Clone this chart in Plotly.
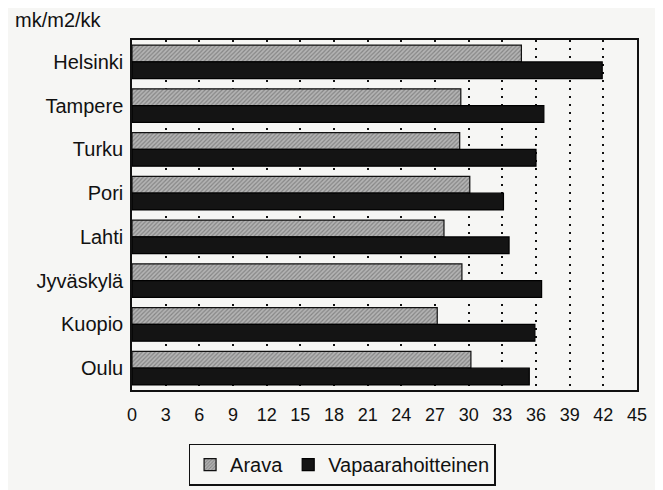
import plotly.graph_objects as go

FONT = "Liberation Sans, Arial, sans-serif"
BG = "#f6f6f4"

cities = ["Helsinki", "Tampere", "Turku", "Pori", "Lahti", "Jyväskylä", "Kuopio", "Oulu"]
arava = [34.7, 29.3, 29.2, 30.1, 27.8, 29.4, 27.2, 30.2]
vapaa = [41.9, 36.7, 36.0, 33.1, 33.6, 36.5, 35.9, 35.4]
x_ticks = list(range(0, 46, 3))

fig = go.Figure()
fig.add_trace(go.Bar(
    y=cities, x=arava, name="Arava", orientation="h",
    marker=dict(color="#a8a8a8", line=dict(color="#111", width=1.2),
                pattern=dict(shape="/", fgcolor="#555", bgcolor="#b4b4b4", size=3, solidity=0.4)),
))
fig.add_trace(go.Bar(
    y=cities, x=vapaa, name="Vapaarahoitteinen", orientation="h",
    marker=dict(color="#141414", line=dict(color="#000", width=1.2)),
))

# axis unit label, top left
fig.add_annotation(text="mk/m2/kk", xref="paper", yref="paper", x=-0.236, y=1.057,
                   xanchor="left", yanchor="middle", showarrow=False,
                   font=dict(size=20, color="#111", family=FONT))

fig.update_layout(
    width=663, height=490,
    font=dict(family=FONT, color="#111", size=20),
    paper_bgcolor=BG, plot_bgcolor=BG,
    # page body adds ~8px offset, so margins are shifted to compensate
    margin=dict(l=124, r=34, t=32, b=105),
    barmode="group", bargap=0.23, bargroupgap=0,
    showlegend=True,
    legend=dict(orientation="h", xanchor="center", x=0.416, yanchor="top", y=-0.153,
                bordercolor="#111", borderwidth=1.5, bgcolor=BG,
                font=dict(size=20, family=FONT), itemwidth=30),
    xaxis=dict(range=[0, 45], tickvals=x_ticks, showgrid=True, gridcolor="#111",
               griddash="2px,6px", gridwidth=1.5, zeroline=False,
               showline=True, linecolor="#111", linewidth=1.5, mirror=True,
               ticks="", tickfont=dict(size=18), ticklabelstandoff=8),
    yaxis=dict(autorange="reversed", showgrid=False, showline=True, linecolor="#111",
               linewidth=1.5, mirror=True, ticks="", tickfont=dict(size=20),
               ticklabelstandoff=3),
)

fig.write_html("out.html")
